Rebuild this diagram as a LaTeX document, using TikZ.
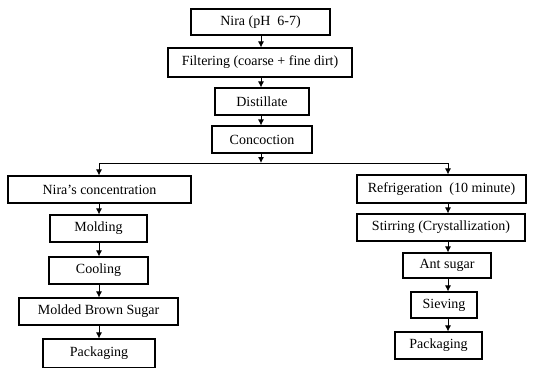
\documentclass[tikz,border=0pt]{standalone}
\usepackage{fontspec}
\setmainfont{Liberation Serif}
\usetikzlibrary{arrows.meta}
\begin{document}
\begin{tikzpicture}[x=1pt,y=-1pt,
  box/.style={draw,line width=1.1pt,inner sep=0pt,font=\fontsize{14}{16}\selectfont},
  arr/.style={line width=0.9pt,-{Latex[length=6pt,width=6pt]}},
  ln/.style={line width=0.9pt}]
\useasboundingbox (0,0) rectangle (538,367);
\fill[white] (0,0) rectangle (538,367);
\coordinate (cx) at (261,0);
\coordinate (lx) at (99,0);
\coordinate (rx) at (448,0);
% top column
\node[box,minimum width=139pt,minimum height=26pt] (nira) at (260.5,22) {Nira (pH\ \ 6-7)};
\node[box,minimum width=184pt,minimum height=29pt] (filt) at (260,62.5) {Filtering (coarse + fine dirt)};
\node[box,minimum width=94pt,minimum height=27pt] (dist) at (262,101.5) {Distillate};
\node[box,minimum width=100pt,minimum height=27pt] (conc) at (262,139.5) {Concoction};
% left column
\node[box,minimum width=183pt,minimum height=27pt] (nc) at (99.5,189.5) {Nira's concentration};
\node[box,minimum width=97pt,minimum height=27pt] (mold) at (98.5,228.5) {Molding};
\node[box,minimum width=99pt,minimum height=27pt] (cool) at (98.5,270.5) {Cooling};
\node[box,minimum width=159pt,minimum height=27pt] (mbs) at (98.5,311.5) {Molded Brown Sugar};
\node[box,minimum width=112pt,minimum height=29pt] (packl) at (99,353.5) {Packaging};
% right column
\node[box,minimum width=169pt,minimum height=28pt] (refr) at (441.5,189) {Refrigeration\ \ (10 minute)};
\node[box,minimum width=168pt,minimum height=27pt] (stir) at (441,227.5) {Stirring (Crystallization)};
\node[box,minimum width=88pt,minimum height=25pt] (ant) at (447,265.5) {Ant sugar};
\node[box,minimum width=66pt,minimum height=26pt] (siev) at (444,305) {Sieving};
\node[box,minimum width=87pt,minimum height=27pt] (packr) at (438.5,345.5) {Packaging};
% split line
\coordinate (bar) at (0,163);
\coordinate (barl) at (lx |- bar);
\coordinate (barr) at (rx |- bar);
\draw[arr] (conc.south -| cx) -- (bar -| cx);
\draw[ln] (barl) -- (barr);
\draw[arr] (barl) -- (nc.north -| lx);
\draw[arr] (barr) -- (refr.north -| rx);
% top arrows
\draw[arr] (nira.south -| cx) -- (filt.north -| cx);
\draw[arr] (filt.south -| cx) -- (dist.north -| cx);
\draw[arr] (dist.south -| cx) -- (conc.north -| cx);
% left arrows
\draw[arr] (nc.south -| lx) -- (mold.north -| lx);
\draw[arr] (mold.south -| lx) -- (cool.north -| lx);
\draw[arr] (cool.south -| lx) -- (mbs.north -| lx);
\draw[arr] (mbs.south -| lx) -- (packl.north -| lx);
% right arrows
\draw[arr] (refr.south -| rx) -- (stir.north -| rx);
\draw[arr] (stir.south -| rx) -- (ant.north -| rx);
\draw[arr] (ant.south -| rx) -- (siev.north -| rx);
\draw[arr] (siev.south -| rx) -- (packr.north -| rx);
\end{tikzpicture}
\end{document}
